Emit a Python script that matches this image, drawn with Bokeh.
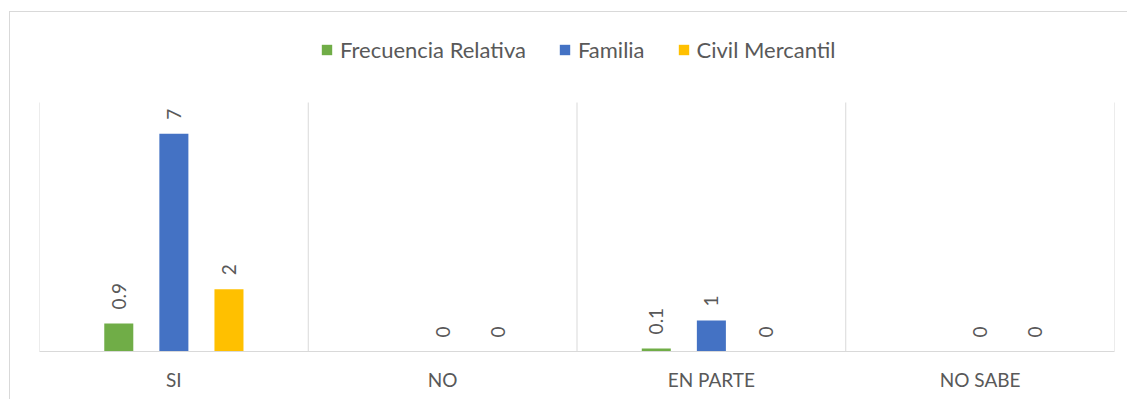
import math
from bokeh.plotting import figure
from bokeh.models import (ColumnDataSource, FactorRange, Range1d, Legend, LegendItem,
                          LabelSet)
from bokeh.transform import dodge
from bokeh.core.properties import value
from bokeh.embed import file_html
from bokeh.resources import INLINE

# ---- data ----
categories = ["SI", "NO", "EN PARTE", "NO SABE"]
frecuencia_relativa = [0.9, None, 0.1, None]
familia = [7, 0, 1, 0]
civil_mercantil = [2, 0, 0, 0]
series_names = ["Frecuencia Relativa", "Familia", "Civil Mercantil"]
series_colors = ["#70AD47", "#4472C4", "#FFC000"]
y_max = 8

series_values = [frecuencia_relativa, familia, civil_mercantil]
offsets = [-0.205, 0.0, 0.205]
bar_width = 0.108

FONT = "Lato"
TEXT = "#595959"
GRID = "#D9D9D9"

# layout (pixels inside the canvas)
W, H = 1118, 388
FRAME_BOTTOM = 339          # canvas y of the category axis
PLOT_TOP = 90               # canvas y where the value y_max sits
y_end = y_max * FRAME_BOTTOM / (FRAME_BOTTOM - PLOT_TOP)

p = figure(x_range=FactorRange(factors=categories), y_range=Range1d(0, y_end),
           width=W, height=H, output_backend="svg", toolbar_location=None,
           min_border_left=29, min_border_right=14, min_border_top=0,
           min_border_bottom=H - FRAME_BOTTOM)
p.styles = {"border-top": "1px solid #D9D9D9", "border-left": "1px solid #D9D9D9",
            "margin-top": "11px", "margin-left": "9px"}
p.outline_line_color = None
p.xgrid.visible = False
p.ygrid.visible = False
p.yaxis.visible = False
p.background_fill_color = "white"
p.border_fill_color = "white"

xa = p.xaxis[0]
xa.axis_line_color = GRID
xa.axis_line_width = 1
xa.major_tick_line_color = None
xa.minor_tick_line_color = None
xa.major_tick_in = 0
xa.major_tick_out = 0
xa.major_label_text_font = FONT
xa.major_label_text_font_size = "19px"
xa.major_label_text_color = TEXT
xa.major_label_standoff = 16

# category separators (from the category boundaries, 0 .. y_max)
bounds = list(range(len(categories) + 1))
p.segment(x0=bounds, y0=[0] * len(bounds), x1=bounds, y1=[y_max] * len(bounds),
          line_color=GRID, line_width=1)

items = []
for name, color, vals, off in zip(series_names, series_colors, series_values, offsets):
    tops = [float("nan") if v is None else v for v in vals]
    src = ColumnDataSource(dict(x=categories, top=tops))
    r = p.vbar(x=dodge("x", off, range=p.x_range), top="top", width=bar_width,
               source=src, fill_color=color, line_color=None)
    items.append(LegendItem(label=name, renderers=[r]))

    lx = [c for c, v in zip(categories, vals) if v is not None]
    ly = [v for v in vals if v is not None]
    lt = [f"{v:g}" for v in ly]
    lsrc = ColumnDataSource(dict(x=lx, y=ly, t=lt))
    p.add_layout(LabelSet(x=dodge("x", off, range=p.x_range), y="y", text="t", source=lsrc,
                          angle=math.pi / 2, text_align="left", text_baseline="middle",
                          y_offset=14, text_font=value(FONT), text_font_size=value("19px"),
                          text_color=value(TEXT)))

legend = Legend(items=items, orientation="horizontal", location=(281, 288),
                glyph_width=13, glyph_height=13, label_standoff=7, spacing=32,
                padding=0, margin=0, border_line_color=None, background_fill_alpha=0,
                label_text_font=FONT, label_text_font_size="22px", label_text_color=TEXT)
p.add_layout(legend)

open("out.html", "w").write(file_html(p, INLINE))
